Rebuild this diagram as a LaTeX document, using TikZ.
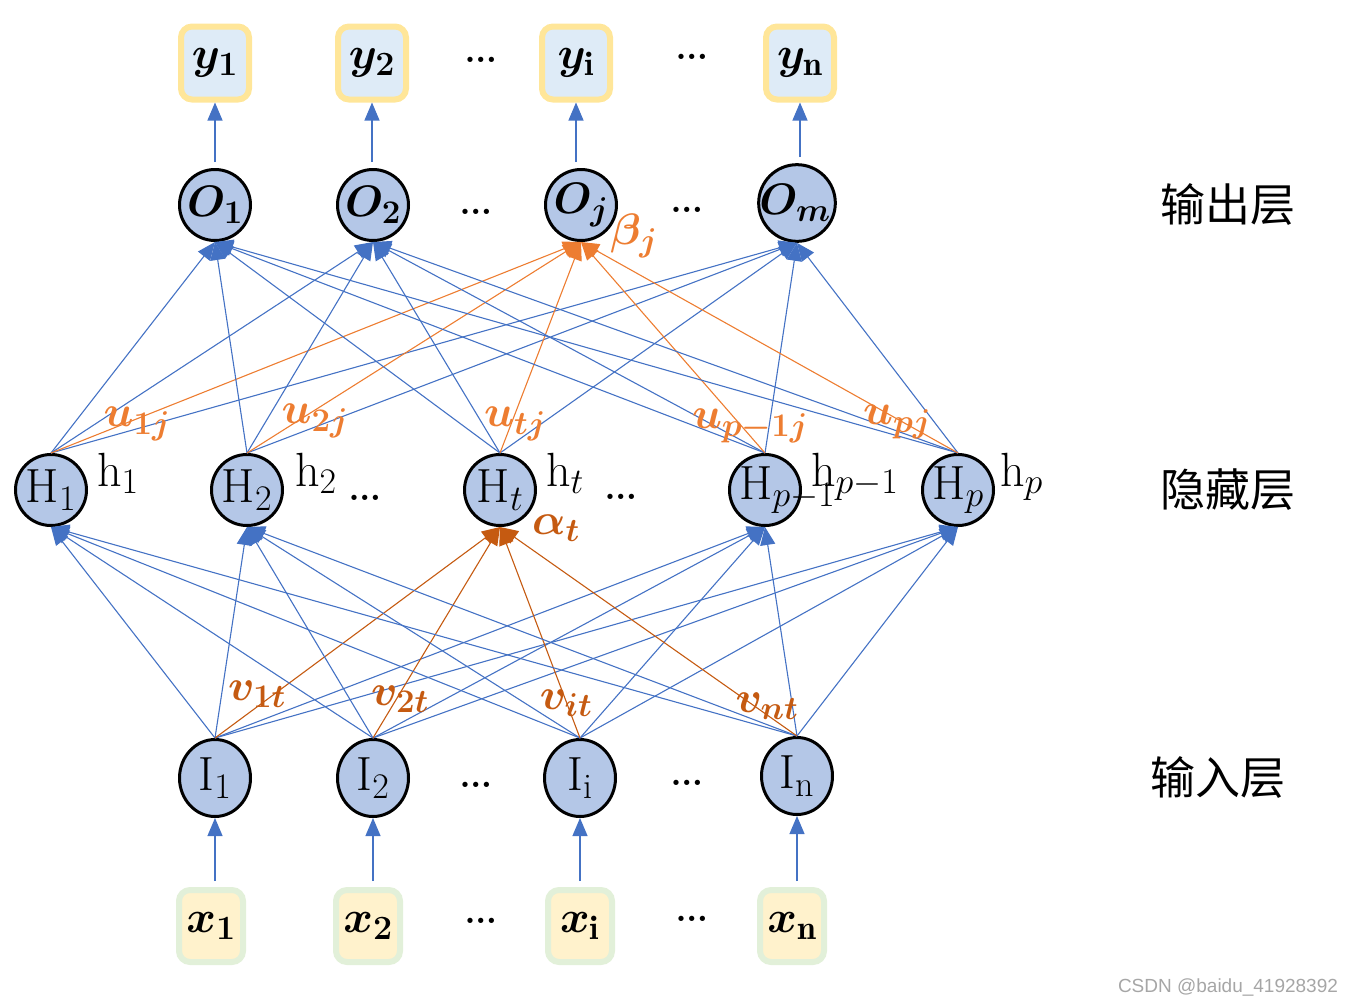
\documentclass[tikz,border=0pt]{standalone}
\usepackage{fix-cm}
\usepackage{fontspec}
\newfontfamily\cjk{Noto Sans CJK SC}
\newfontfamily\wmfont{Liberation Sans}
\usetikzlibrary{arrows.meta,shapes.geometric}
\DeclareMathSizes{44}{44}{33}{25}
\DeclareMathSizes{45}{45}{34}{25}
\DeclareMathSizes{46}{46}{34}{26}
\DeclareMathSizes{48}{48}{36}{27}
\definecolor{lineblue}{HTML}{4472C4}
\definecolor{nodefill}{HTML}{B4C7E7}
\definecolor{yfill}{HTML}{DEEBF7}
\definecolor{yborder}{HTML}{FFE699}
\definecolor{xfill}{HTML}{FFF2CC}
\definecolor{xborder}{HTML}{E2F0D9}
\definecolor{uorange}{HTML}{ED7D31}
\definecolor{vorange}{HTML}{C55A11}
\definecolor{wmgray}{HTML}{A6A6A6}
\begin{document}
\begin{tikzpicture}[x=1pt,y=-1pt,
  neuron/.style={circle,draw=black,line width=3pt,fill=nodefill,minimum size=71pt,inner sep=0pt,font=\fontsize{48}{50}\selectfont},
  oneuron/.style={neuron,font=\fontsize{44}{48}\selectfont\boldmath},
  inneuron/.style={ellipse,draw=black,line width=3pt,fill=nodefill,minimum width=71pt,minimum height=77pt,inner sep=0pt,font=\fontsize{48}{50}\selectfont},
  ybox/.style={rectangle,rounded corners=11pt,draw=yborder,fill=yfill,line width=6pt,minimum width=68pt,minimum height=73pt,inner sep=0pt,font=\fontsize{45}{48}\selectfont\boldmath},
  xbox/.style={rectangle,rounded corners=11pt,draw=xborder,fill=xfill,line width=6pt,minimum width=64pt,minimum height=72pt,inner sep=0pt,font=\fontsize{45}{48}\selectfont\boldmath},
  conn/.style={draw=lineblue,line width=1.1pt,-{Triangle[length=18pt,width=15pt]}},
  uconn/.style={conn,draw=uorange},
  vconn/.style={conn,draw=vorange},
  ulab/.style={text=uorange,inner sep=0pt,font=\fontsize{44}{48}\selectfont\boldmath},
  vlab/.style={text=vorange,inner sep=0pt,font=\fontsize{44}{48}\selectfont\boldmath},
  hlab/.style={anchor=base west,inner sep=0pt,font=\fontsize{48}{50}\selectfont},
  dotlab/.style={anchor=base,inner sep=0pt,font=\fontsize{64}{66}\selectfont},
  layer/.style={inner sep=0pt,font=\cjk\fontsize{45}{50}\selectfont}]
\useasboundingbox (0,0) rectangle (1355,1005);

% output boxes
\node[ybox] (y1) at (215,63) {$y_1$};
\node[ybox] (y2) at (372,63) {$y_2$};
\node[ybox] (yi) at (576,63) {$y_{\mathrm{i}}$};
\node[ybox] (yn) at (800,63) {$y_{\mathrm{n}}$};

% output neurons
\node[oneuron] (O1) at (215,205) {$O_1$};
\node[oneuron] (O2) at (373,205) {$O_2$};
\node[oneuron] (Oj) at (581,205) {$O_j$};
\node[oneuron] (Om) at (797,203) {\hspace{-4pt}$O_m$\hspace{-4pt}};

% hidden neurons
\node[neuron] (H1) at (51,490) {$\mathrm{H}_1$};
\node[neuron] (H2) at (247,490) {$\mathrm{H}_2$};
\node[neuron] (Ht) at (500,490) {$\mathrm{H}_t$};
\node[neuron] (Hq) at (765,490) {$\mathrm{H}_{p\rlap{$\scriptstyle -1$}}$};
\node[neuron] (Hp) at (958,490) {$\mathrm{H}_p$};

% input neurons
\node[inneuron] (I1) at (215,778) {$\mathrm{I}_1$};
\node[inneuron] (I2) at (373,778) {$\mathrm{I}_2$};
\node[inneuron] (Ii) at (580,778) {$\mathrm{I}_{\mathrm{i}}$};
\node[inneuron] (In) at (797,776) {$\mathrm{I}_{\mathrm{n}}$};

% input boxes
\node[xbox] (x1) at (211,926) {$x_1$};
\node[xbox] (x2) at (368,926) {$x_2$};
\node[xbox] (xi) at (580,926) {$x_{\mathrm{i}}$};
\node[xbox] (xn) at (792,926) {$x_{\mathrm{n}}$};

% output -> y
\foreach \o/\y in {O1/y1,O2/y2,Oj/yi,Om/yn}
  \draw[conn,shorten <=6pt] (\o.north -| \y.south) -- (\y.south);

% x -> input
\foreach \x/\i in {x1/I1,x2/I2,xi/Ii,xn/In}
  \draw[conn,shorten <=6pt] (\i.south |- \x.north) -- (\i.south);

% hidden -> output
\foreach \h in {H1,H2,Ht,Hq,Hp}{
  \foreach \o in {O1,O2,Om}
    \draw[conn] (\h.north) -- (\o.south);
  \draw[uconn] (\h.north) -- (Oj.south);
}

% input -> hidden
\foreach \i in {I1,I2,Ii,In}{
  \foreach \h in {H1,H2,Hq,Hp}
    \draw[conn] (\i.north) -- (\h.south);
  \draw[vconn] (\i.north) -- (Ht.south);
}

% weight labels
\node[ulab] (u1) at (137,424) {$u_{1j}$};
\node[ulab] (u2) at (315,421) {$u_{2j}$};
\node[ulab] (ut) at (515,424) {$u_{tj}$};
\node[ulab] (uq) at (750,426) {$u_{p-1j}$};
\node[ulab] (up) at (897,422) {$u_{pj}$};
\node[ulab] (bj) at (634,236) {$\beta_j$};

\node[vlab] (v1) at (257,694) {$v_{1t}$};
\node[vlab] (v2) at (400,699) {$v_{2t}$};
\node[vlab] (vi) at (566,703) {$v_{it}$};
\node[vlab] (vn) at (767,706) {$v_{nt}$};
\node[vlab] (at) at (556,528) {$\alpha_t$};

% hidden outputs
\node[hlab] (h1) at (97,486) {$\mathrm{h}_1$};
\node[hlab] (h2) at (295,486) {$\mathrm{h}_2$};
\node[hlab] (ht) at (546,486) {$\mathrm{h}_t$};
\node[hlab] (hq) at (811,486) {$\mathrm{h}_{p-1}$};
\node[hlab] (hp) at (1000,486) {$\mathrm{h}_p$};

% ellipses
\node[dotlab] (d1) at (481,62) {\ldots};
\node[dotlab] (d2) at (692,59) {\ldots};
\node[dotlab] (d3) at (476,214) {\ldots};
\node[dotlab] (d4) at (687,212) {\ldots};
\node[dotlab] (d5) at (365,500) {\ldots};
\node[dotlab] (d6) at (621,499) {\ldots};
\node[dotlab] (d7) at (476,787) {\ldots};
\node[dotlab] (d8) at (687,785) {\ldots};
\node[dotlab] (d9) at (481,923) {\ldots};
\node[dotlab] (d10) at (692,921) {\ldots};

% layer names
\node[layer] (lo) at (1228,205) {输出层};
\node[layer] (lh) at (1228,490) {隐藏层};
\node[layer] (li) at (1218,778) {输入层};

% watermark
\node[inner sep=0pt,text=wmgray,font=\wmfont\fontsize{19}{21}\selectfont] (wm) at (1228,987) {CSDN @baidu\_41928392};
\end{tikzpicture}
\end{document}
